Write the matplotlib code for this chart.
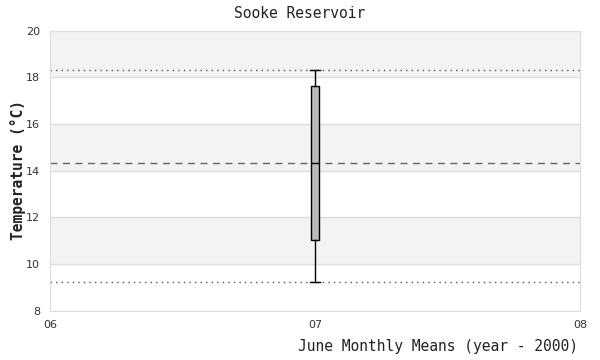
import matplotlib
matplotlib.use("Agg")
import matplotlib.pyplot as plt

# June monthly mean stats (year - 2000 = 7)
years = [7]
whisker_low = [9.22]
q1 = [11.02]
median = [14.32]
q3 = [17.62]
whisker_high = [18.30]

xticks = [6, 7, 8]
xticklabels = ["06", "07", "08"]
yticks = [8, 10, 12, 14, 16, 18, 20]

fig = plt.figure(figsize=(6, 3.6), dpi=100)
ax = fig.add_axes([50/600, 1 - 310.7/360, 530/600, 280/360])

# alternating bands
for lo in range(8, 20, 2):
    if (lo // 2) % 2 == 1:
        ax.axhspan(lo, lo + 2, color="#f3f3f3", zorder=0, lw=0)
for y in yticks:
    ax.axhline(y, color="#dddddd", lw=1, zorder=1)

ax.axhline(whisker_high[0], color="#555555", lw=1, ls=(0, (1, 3)), zorder=2)
ax.axhline(whisker_low[0], color="#555555", lw=1, ls=(0, (1, 3)), zorder=2)
ax.axhline(median[0], color="#666666", lw=1, ls=(0, (5, 4)), zorder=2)

stats = [{"med": median[0], "q1": q1[0], "q3": q3[0],
          "whislo": whisker_low[0], "whishi": whisker_high[0], "fliers": []}]
ax.bxp(stats, positions=years, widths=0.03, patch_artist=True,
       showfliers=False,
       boxprops=dict(facecolor="#bbbbbb", edgecolor="black", lw=1),
       medianprops=dict(color="black", lw=1),
       whiskerprops=dict(color="black", lw=1),
       capprops=dict(color="black", lw=1), capwidths=0.036,
       zorder=3)

ax.set_xlim(6, 8)
ax.set_ylim(8, 20)
ax.set_xticks(xticks)
ax.set_xticklabels(xticklabels)
ax.set_yticks(yticks)
ax.tick_params(length=0, labelsize=8, labelcolor="#333333", pad=7)
for s in ax.spines.values():
    s.set_color("#dddddd")

mono = "DejaVu Sans Mono"
fig.text(0.5, 1 - 14/360, "Sooke Reservoir", ha="center", va="center",
         family=mono, fontsize=10.5, color="#222222")
fig.text(578/600, 1 - 347/360, "June Monthly Means (year - 2000)", ha="right",
         va="center", family=mono, fontsize=10.5, color="#222222")
fig.text(18/600, 1 - 170/360, "Temperature (°C)", ha="center", va="center",
         rotation=90, family=mono, fontsize=10.5, color="#222222",
         fontweight="bold")

fig.savefig("out.png", dpi=100)
